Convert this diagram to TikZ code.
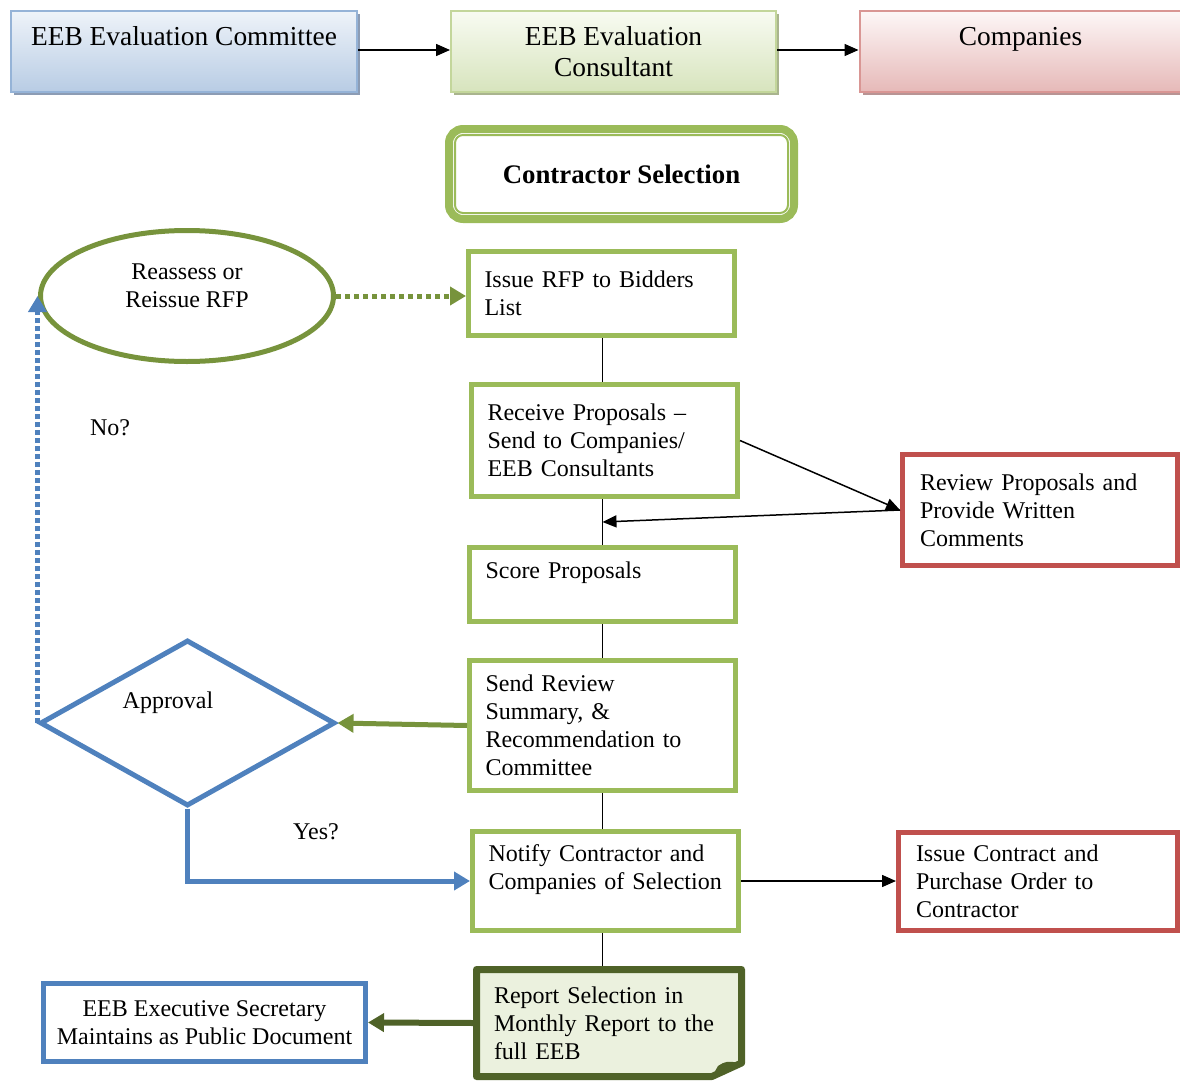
\documentclass[tikz,border=0pt]{standalone}
\usepackage{fontspec}
\setmainfont{Liberation Serif}
\usetikzlibrary{arrows.meta,shapes.geometric,shadows,calc}

\definecolor{cmtline}{HTML}{95B3D7}
\definecolor{cmttop}{HTML}{EEF3F9}
\definecolor{cmtbot}{HTML}{B8CCE4}
\definecolor{cmtshade}{HTML}{8C9CB4}
\definecolor{cnsline}{HTML}{C3D69B}
\definecolor{cnstop}{HTML}{F8FBF2}
\definecolor{cnsbot}{HTML}{D7E4BD}
\definecolor{cnsshade}{HTML}{A9B48E}
\definecolor{coline}{HTML}{D99694}
\definecolor{cotop}{HTML}{FDF7F7}
\definecolor{cobot}{HTML}{E6B9B8}
\definecolor{coshade}{HTML}{B89494}
\definecolor{taskgreen}{HTML}{9BBB59}
\definecolor{replyred}{HTML}{C0504D}
\definecolor{recblue}{HTML}{4F81BD}
\definecolor{leafgreen}{HTML}{77933C}
\definecolor{darkolive}{HTML}{4F6228}
\definecolor{notefill}{HTML}{EBF1DE}

\begin{document}
\begin{tikzpicture}[x=0.5pt,y=-0.5pt,
  font=\fontsize{12}{14}\selectfont,
  hdr/.style={minimum height=40.5pt, line width=1pt, align=center,
    font=\fontsize{13.7}{15.5}\selectfont},
  task/.style={draw=taskgreen, line width=2.5pt, text width=117pt,
    inner xsep=8pt, align=left},
  reply/.style={draw=replyred, line width=2.5pt, text width=#1,
    inner xsep=8.75pt, align=left},
  record/.style={draw=recblue, line width=2.5pt, minimum width=161pt,
    minimum height=39pt, align=center},
  arrow/.style={line width=0.75pt, -{Triangle[length=7pt,width=6pt]}},
  fat/.style={line width=2.5pt, -{Triangle[length=8pt,width=9pt]}}]

\useasboundingbox (0,0) rectangle (1180,1082);

% who does what
\node[hdr, minimum width=173pt, draw=cmtline, top color=cmttop, bottom color=cmtbot,
  drop shadow={shadow xshift=1.5pt,shadow yshift=-1.5pt,fill=cmtshade,opacity=1}]
  (cmte) at (184,51.5) {EEB Evaluation Committee\\\mbox{}};
\node[hdr, minimum width=162.5pt, draw=cnsline, top color=cnstop, bottom color=cnsbot,
  drop shadow={shadow xshift=1.5pt,shadow yshift=-1.5pt,fill=cnsshade,opacity=1}]
  (cons) at (613.5,51.5) {EEB Evaluation\\Consultant};
\node[hdr, minimum width=161pt, draw=coline, top color=cotop, bottom color=cobot,
  drop shadow={shadow xshift=1.5pt,shadow yshift=-1.5pt,fill=coshade,opacity=1}]
  (comp) at (1020.5,51.5) {Companies\\\mbox{}};
\draw[arrow] (cmte.east |- 0,50) -- (cons.west |- 0,50);
\draw[arrow] (cons.east |- 0,50) -- (comp.west |- 0,50);

% title
\node[draw=taskgreen, line width=4pt, rounded corners=7pt, minimum width=172.5pt,
  minimum height=45pt, font=\bfseries\fontsize{13.4}{15}\selectfont]
  (sel) at (621.5,174) {\raisebox{-2pt}{Contractor Selection}};
\draw[taskgreen, line width=1pt, rounded corners=4pt]
  ($(sel.north west)+(10,10)$) rectangle ($(sel.south east)+(-10,-10)$);

% main column
\node[task, minimum height=42pt] (rfp) at (601.5,293.5) {Issue RFP to Bidders\\List};
\node[task, minimum height=56pt] (recv) at (604.5,440.5)
  {Receive Proposals --\\Send to Companies/\\EEB Consultants};
\node[task, minimum height=37pt] (score) at (602.5,584.5) {Score Proposals\\\mbox{}};
\node[task, minimum height=65pt] (send) at (602.5,725.5)
  {Send Review\\Summary, \&\\Recommendation to\\Committee};
\node[task, minimum height=49.5pt] (notify) at (605.5,881)
  {Notify Contractor and\\\mbox{Companies of Selection}\\\mbox{}};

% report note with folded corner
\filldraw[draw=darkolive, fill=notefill, line width=3.5pt, line join=round]
  (476.5,969.5) -- (741.5,969.5) -- (741.5,1063) -- (712,1076.5) -- (476.5,1076.5) -- cycle;
\fill[darkolive] (712,1076.5) -- (718,1066) .. controls (726,1061) .. (741.5,1063) -- cycle;
\node[minimum height=53.5pt, text width=115pt, inner xsep=8.75pt, outer sep=1.75pt,
  align=left] (report) at (609,1023)
  {Report Selection in\\Monthly Report to the\\full EEB};

\foreach \a/\b in {rfp/recv, recv/score, score/send, send/notify, notify/report}
  \draw[line width=0.75pt] (\a.south -| score) -- (\b.north -| score);

% side boxes
\node[reply=120pt, minimum height=55.5pt] (comment) at (1040,510)
  {Review Proposals and\\Provide Written\\Comments};
\node[reply=122pt, minimum height=49pt] (contract) at (1038,881.5)
  {Issue Contract and\\Purchase Order to\\Contractor};
\node[record] (secy) at (204.5,1022.5)
  {EEB Executive Secretary\\Maintains as Public Document};

\coordinate (merge) at ($(recv.south -| score)!0.5!(score.north)$);
\draw[arrow] (recv.east) -- (comment.west);
\draw[arrow] (comment.west) -- (merge);
\draw[arrow] (notify.east) -- (notify.east -| contract.west);

% decision loop
\node[ellipse, draw=leafgreen, line width=2.5pt, minimum width=146.5pt,
  minimum height=65.5pt, align=center] (redo) at (187,296)
  {Reassess or\\Reissue RFP\\[-4pt]\mbox{}};
\node[diamond, draw=recblue, line width=2.5pt, minimum width=147.5pt,
  minimum height=83pt, inner sep=0pt] (appr) at (187.5,723) {};
\node (apprlbl) at (168,703) {Approval};
\node (no) at (110,428) {No?};
\node (yes) at (316,832) {Yes?};

\draw[fat, leafgreen, dash pattern=on 2.5pt off 2pt] (redo.east) -- (redo.east -| rfp.west);
\draw[fat, leafgreen] (send.west) -- (appr.east);
\draw[fat, recblue] (appr.south) |- (notify.west);
\draw[fat, recblue, dash pattern=on 2.5pt off 1.5pt] (appr.west) -- (appr.west |- redo.west);
\draw[fat, darkolive, line width=3pt] (report.west) -- (secy.east);

\end{tikzpicture}
\end{document}
